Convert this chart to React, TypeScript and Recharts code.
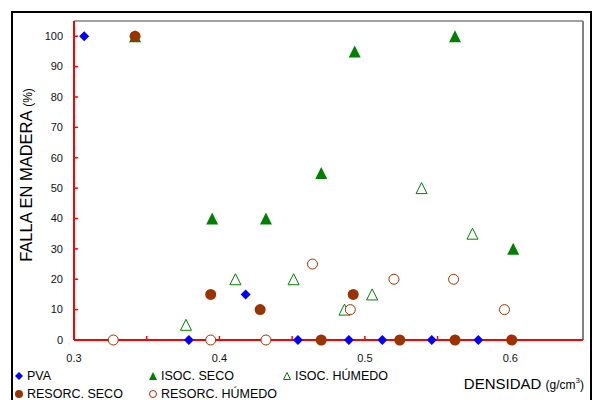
import { ScatterChart, Scatter, XAxis, YAxis, ReferenceLine } from 'recharts'

const pvaX = [0.307, 0.379, 0.418, 0.454, 0.489, 0.512, 0.546, 0.578]
const pvaY = [100, 0, 15, 0, 0, 0, 0, 0]

const isocSecoX = [0.342, 0.395, 0.432, 0.47, 0.493, 0.562, 0.602]
const isocSecoY = [100, 40, 40, 55, 95, 100, 30]

const isocHumX = [0.377, 0.411, 0.451, 0.486, 0.505, 0.539, 0.574]
const isocHumY = [5, 20, 20, 10, 15, 50, 35]

const resSecoX = [0.342, 0.394, 0.428, 0.47, 0.492, 0.524, 0.562, 0.601]
const resSecoY = [100, 15, 10, 0, 15, 0, 0, 0]

const resHumX = [0.327, 0.394, 0.432, 0.464, 0.49, 0.52, 0.561, 0.596]
const resHumY = [0, 0, 0, 25, 10, 20, 20, 10]

const xTicks = [0.3, 0.35, 0.4, 0.45, 0.5, 0.55, 0.6]
const yTicks = [0, 10, 20, 30, 40, 50, 60, 70, 80, 90, 100]

const BLUE = '#0000ff'
const GREEN = '#008000'
const BROWN = '#993300'
const RED = '#ff0000'

const zip = (xs: number[], ys: number[]) => xs.map((x, i) => ({ x, y: ys[i] }))

const Diamond = ({ cx, cy }: any) => (
  <path d={`M${cx},${cy - 5}L${cx + 5},${cy}L${cx},${cy + 5}L${cx - 5},${cy}Z`} fill={BLUE} />
)
const TriFilled = ({ cx, cy }: any) => (
  <path d={`M${cx},${cy - 6}L${cx + 6},${cy + 6}L${cx - 6},${cy + 6}Z`} fill={GREEN} />
)
const TriOpen = ({ cx, cy }: any) => (
  <path d={`M${cx},${cy - 5.5}L${cx + 5.5},${cy + 5.5}L${cx - 5.5},${cy + 5.5}Z`} fill="#fff" stroke={GREEN} strokeWidth={1} />
)
const DotFilled = ({ cx, cy }: any) => <circle cx={cx} cy={cy} r={5.5} fill={BROWN} />
const DotOpen = ({ cx, cy }: any) => (
  <circle cx={cx} cy={cy} r={5} fill="#fff" stroke={BROWN} strokeWidth={1} />
)

const XTick = ({ x, y, payload }: any) => {
  const v = payload.value
  const major = Math.round(v * 100) % 10 === 0
  return (
    <g>
      <line x1={x} x2={x} y1={y - 8} y2={y - 12} stroke={RED} strokeWidth={1.5} />
      {major && (
        <text x={x} y={y + 14} textAnchor="middle" fontSize={11} fill="#111">
          {v.toFixed(1)}
        </text>
      )}
    </g>
  )
}

const YTick = ({ x, y, payload }: any) => (
  <g>
    <line x1={x + 11} x2={x + 15} y1={y} y2={y} stroke={RED} strokeWidth={1.5} />
    <text x={x} y={y} dy="0.35em" textAnchor="end" fontSize={11} fill="#111">
      {payload.value}
    </text>
  </g>
)

const legendItems = [
  { label: 'PVA', left: 15, top: 369, mark: <path d="M4,0L8,4L4,8L0,4Z" fill={BLUE} /> },
  { label: 'ISOC. SECO', left: 149, top: 369, mark: <path d="M4,0L8,8L0,8Z" fill={GREEN} /> },
  { label: 'ISOC. HÚMEDO', left: 283, top: 369, mark: <path d="M4,0.5L7.5,7.5L0.5,7.5Z" fill="#fff" stroke={GREEN} /> },
  { label: 'RESORC. SECO', left: 15, top: 387, mark: <circle cx={4} cy={4} r={4} fill={BROWN} /> },
  { label: 'RESORC. HÚMEDO', left: 149, top: 387, mark: <circle cx={4} cy={4} r={3.5} fill="#fff" stroke={BROWN} /> },
]

export default function App() {
  return (
    <div
      style={{
        position: 'absolute',
        left: 0,
        top: 0,
        width: 592,
        height: 400,
        overflow: 'hidden',
        background: '#fff',
        fontFamily: 'Arial, "Liberation Sans", sans-serif',
      }}
    >
      <div
        style={{
          position: 'absolute',
          left: 11,
          top: 11,
          width: 581,
          height: 420,
          boxSizing: 'border-box',
          border: '2px solid #000',
        }}
      />
      <div style={{ position: 'absolute', left: 0, top: 0 }}>
        <ScatterChart width={592} height={400} margin={{ top: 21, right: 9, bottom: 0, left: 0 }}>
          <XAxis
            dataKey="x"
            type="number"
            domain={[0.3, 0.65]}
            ticks={xTicks}
            interval={0}
            height={60}
            axisLine={{ stroke: RED, strokeWidth: 2 }}
            tickLine={false}
            tick={<XTick />}
          />
          <YAxis
            dataKey="y"
            type="number"
            domain={[0, 105]}
            ticks={yTicks}
            interval={0}
            width={74}
            tickMargin={5}
            axisLine={{ stroke: RED, strokeWidth: 2 }}
            tickLine={false}
            tick={<YTick />}
          />
          <ReferenceLine y={105} stroke="#808080" strokeWidth={1.5} />
          <ReferenceLine x={0.65} stroke="#808080" strokeWidth={2} />
          <Scatter data={zip(pvaX, pvaY)} shape={Diamond} isAnimationActive={false} />
          <Scatter data={zip(isocSecoX, isocSecoY)} shape={TriFilled} isAnimationActive={false} />
          <Scatter data={zip(isocHumX, isocHumY)} shape={TriOpen} isAnimationActive={false} />
          <Scatter data={zip(resSecoX, resSecoY)} shape={DotFilled} isAnimationActive={false} />
          <Scatter data={zip(resHumX, resHumY)} shape={DotOpen} isAnimationActive={false} />
          <text transform="translate(32,175) rotate(-90)" textAnchor="middle" fill="#000">
            <tspan fontSize={16.5}>FALLA EN MADERA </tspan>
            <tspan fontSize={12}>(%)</tspan>
          </text>
          <text x={584} y={389} textAnchor="end" fill="#000">
            <tspan fontSize={15}>DENSIDAD </tspan>
            <tspan fontSize={12}>(g/cm</tspan>
            <tspan fontSize={8} dy={-6}>3</tspan>
            <tspan fontSize={12} dy={6}>)</tspan>
          </text>
        </ScatterChart>
      </div>
      {legendItems.map((it) => (
        <div
          key={it.label}
          style={{
            position: 'absolute',
            left: it.left,
            top: it.top,
            display: 'flex',
            alignItems: 'center',
            fontSize: 12.5,
            lineHeight: '14px',
            color: '#000',
            whiteSpace: 'nowrap',
          }}
        >
          <svg width={9} height={9} style={{ marginRight: 3 }}>
            {it.mark}
          </svg>
          <span>{it.label}</span>
        </div>
      ))}
    </div>
  )
}
